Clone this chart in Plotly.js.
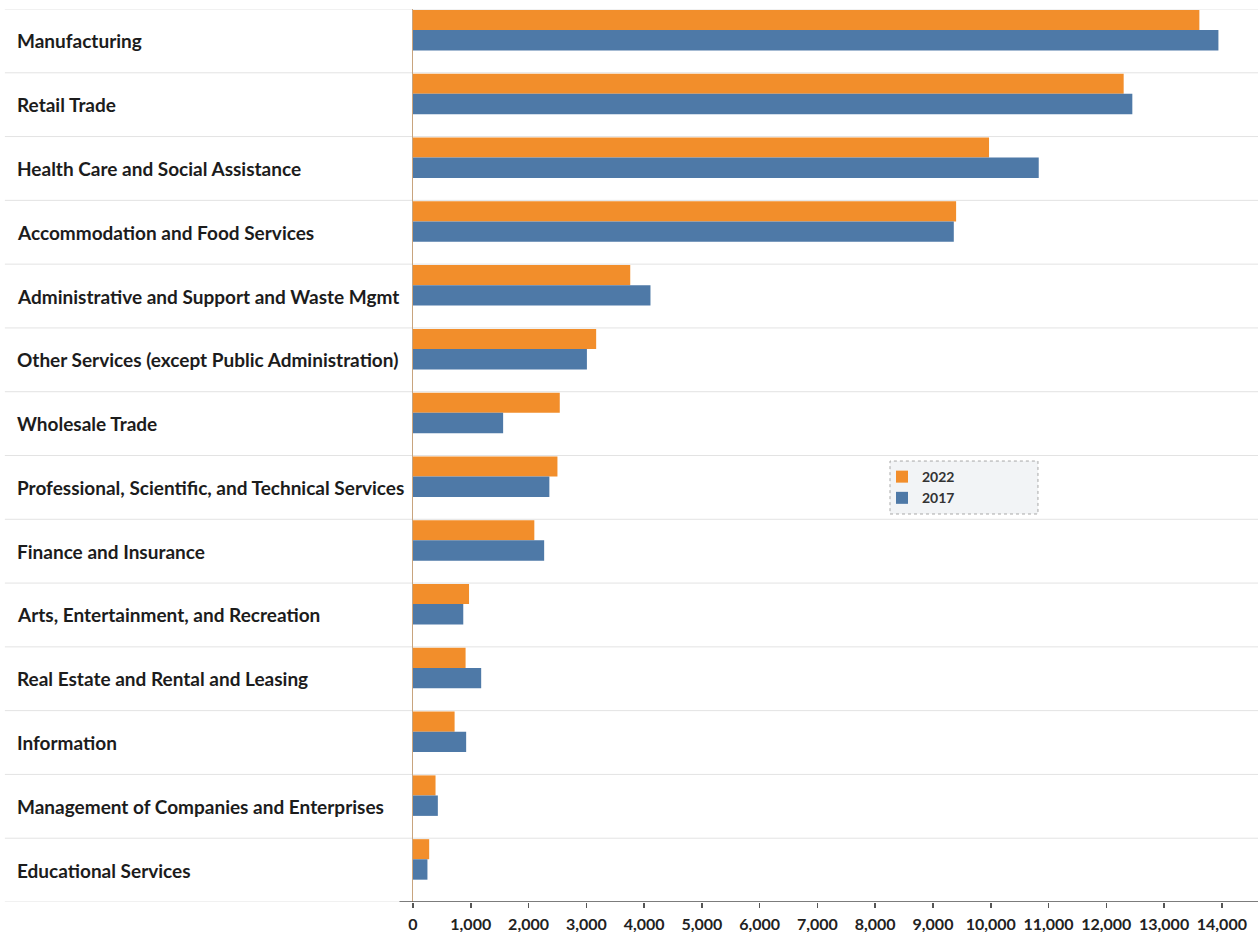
<!DOCTYPE html>
<html>
<head>
<meta charset="utf-8">
<script src="https://cdn.plot.ly/plotly-3.0.1.min.js"></script>
<style>
  html, body { margin: 0; padding: 0; background: #ffffff; }
  #chart { width: 1258px; height: 932px; }
</style>
</head>
<body>
<div id="chart"></div>
<script>
// ---- Data ----
const categories = [
  "Manufacturing",
  "Retail Trade",
  "Health Care and Social Assistance",
  "Accommodation and Food Services",
  "Administrative and Support and Waste Mgmt",
  "Other Services (except Public Administration)",
  "Wholesale Trade",
  "Professional, Scientific, and Technical Services",
  "Finance and Insurance",
  "Arts, Entertainment, and Recreation",
  "Real Estate and Rental and Leasing",
  "Information",
  "Management of Companies and Enterprises",
  "Educational Services"
];
const values2022 = [13610, 12300, 9970, 9400, 3760, 3170, 2540, 2500, 2100, 970, 910, 720, 390, 280];
const values2017 = [13940, 12450, 10830, 9360, 4110, 3010, 1560, 2360, 2270, 870, 1180, 920, 430, 250];
const seriesNames = ["2022", "2017"];
const tickValues = [0,1000,2000,3000,4000,5000,6000,7000,8000,9000,10000,11000,12000,13000,14000];

// ---- Styling ----
const ORANGE = "#F28E2B";
const BLUE = "#4E79A7";
const FONT = "Lato, 'Open Sans', sans-serif";

const traces = [
  {
    type: "bar", orientation: "h", name: seriesNames[0],
    y: categories, x: values2022,
    marker: { color: ORANGE },
    width: 0.315, offset: -0.485,
    hoverinfo: "x+name"
  },
  {
    type: "bar", orientation: "h", name: seriesNames[1],
    y: categories, x: values2017,
    marker: { color: BLUE },
    width: 0.32, offset: -0.17,
    hoverinfo: "x+name"
  }
];

const shapes = [];
// light row separators spanning the label area and the plot area
for (let i = 0; i <= categories.length; i++) {
  shapes.push({
    type: "line", xref: "paper", yref: "y",
    x0: -0.483, x1: 1, y0: i - 0.5, y1: i - 0.5,
    line: { color: "#e3e3e3", width: 1 }, layer: "below"
  });
}
// bottom axis line
shapes.push({
  type: "line", xref: "paper", yref: "y",
  x0: -0.016, x1: 1, y0: categories.length - 0.5, y1: categories.length - 0.5,
  line: { color: "#555555", width: 1.5 }, layer: "above"
});
// legend box (dotted border)
shapes.push({
  type: "rect", xref: "paper", yref: "paper",
  x0: 0.5645, x1: 0.7396, y0: 0.4345, y1: 0.4938,
  fillcolor: "#f2f4f6", line: { color: "#a8a8a8", width: 1, dash: "dot" },
  layer: "below"
});

// category labels, left-aligned
const annotations = categories.map(c => ({
  xref: "paper", yref: "y", x: -0.4715, y: c,
  xanchor: "left", yanchor: "middle",
  text: c, showarrow: false,
  font: { family: FONT, size: 19, color: "#1c1c1c", weight: 700 }
}));

const layout = {
  width: 1258, height: 932,
  margin: { l: 413, r: 0, t: 9, b: 30, pad: 0 },
  paper_bgcolor: "#ffffff", plot_bgcolor: "#ffffff",
  barmode: "overlay",
  showlegend: true,
  legend: {
    x: 0.555, y: 0.4938, xanchor: "left", yanchor: "top",
    bgcolor: "rgba(0,0,0,0)", borderwidth: 0,
    traceorder: "normal",
    font: { family: FONT, size: 14, color: "#333333", weight: 700 },
    tracegroupgap: 0
  },
  xaxis: {
    range: [0, 14625],
    tickvals: tickValues,
    tickformat: ",d",
    ticks: "outside", ticklen: 5, tickcolor: "#555555", tickwidth: 1.5,
    ticklabelstandoff: 3,
    showgrid: false, zeroline: false, showline: false,
    tickfont: { family: FONT, size: 16, color: "#222222", weight: 700 },
    fixedrange: true
  },
  yaxis: {
    type: "category",
    range: [categories.length - 0.5, -0.5],
    showticklabels: false,
    ticks: "",
    showgrid: false, zeroline: false,
    showline: true, linecolor: "#c8a47e", linewidth: 1,
    fixedrange: true
  },
  shapes: shapes,
  annotations: annotations
};

Plotly.newPlot("chart", traces, layout, { displayModeBar: false, staticPlot: true });
</script>
</body>
</html>
